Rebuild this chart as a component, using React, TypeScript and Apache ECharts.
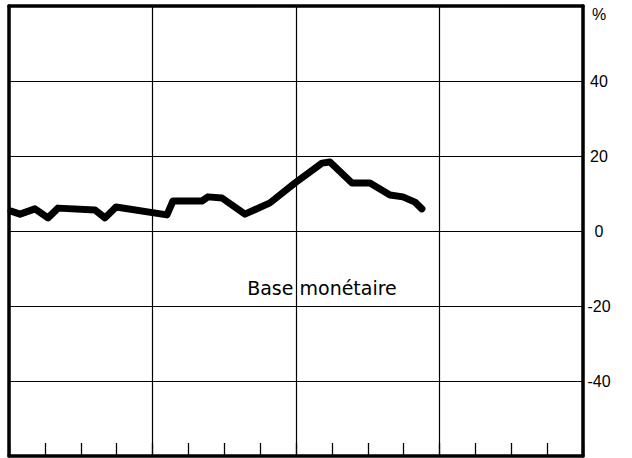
import React, { useEffect, useRef } from "react";
import * as echarts from "echarts";

// Position of each vertex, in months from the start of the first year (4 years shown)
const monthPos = [0.17, 0.92, 2.17, 3.26, 4.1, 7.19, 8.03, 8.95, 13.21, 13.71, 16.14, 16.64, 17.81, 19.73, 21.82, 23.91, 26.17, 26.84, 28.68, 30.18, 31.86, 32.94, 33.95, 34.53];
// Base monétaire, annual growth rate (%)
const baseMonetaire = [5.3, 4.5, 5.9, 3.5, 6.1, 5.6, 3.5, 6.4, 4.3, 8.0, 8.0, 9.1, 8.8, 4.5, 7.5, 12.8, 18.1, 18.4, 12.8, 12.8, 9.6, 9.1, 7.7, 5.9];
const yTickLabels = [-40, -20, 0, 20, 40];
const seriesName = "Base monétaire";
const unitLabel = "%";

const frameLine = { show: true, onZero: false, lineStyle: { color: "#000", width: 3.5 } };

export default function App() {
  const ref = useRef<HTMLDivElement>(null);
  useEffect(() => {
    if (!ref.current) return;
    const chart = echarts.init(ref.current, undefined, { renderer: "svg" });
    const data = monthPos.map((m, i) => [m, baseMonetaire[i]]);
    chart.setOption({
      animation: false,
      backgroundColor: "#fff",
      grid: { left: 9, right: 49, top: 6, bottom: 2 },
      xAxis: [
        {
          type: "value",
          min: 0,
          max: 48,
          interval: 12,
          position: "bottom",
          axisLine: { show: false },
          axisTick: { show: false },
          axisLabel: { show: false },
          splitLine: { show: true, lineStyle: { color: "#000", width: 1.2 } },
        },
        {
          type: "value",
          min: 0,
          max: 48,
          interval: 3,
          position: "bottom",
          axisLine: frameLine,
          axisTick: { show: true, inside: true, length: 13, lineStyle: { color: "#000", width: 1.3 } },
          axisLabel: { show: false },
          splitLine: { show: false },
        },
        {
          type: "value",
          min: 0,
          max: 48,
          position: "top",
          axisLine: frameLine,
          axisTick: { show: false },
          axisLabel: { show: false },
          splitLine: { show: false },
        },
      ],
      yAxis: [
        {
          type: "value",
          position: "right",
          min: -60,
          max: 60,
          interval: 20,
          axisLine: frameLine,
          axisTick: { show: false },
          axisLabel: {
            margin: 16,
            align: "center",
            fontSize: 16,
            fontFamily: "Liberation Sans",
            color: "#000",
            formatter: (v: number) => (yTickLabels.indexOf(v) >= 0 ? String(v) : ""),
          },
          splitLine: { show: true, lineStyle: { color: "#000", width: 1.2 } },
        },
        {
          type: "value",
          position: "left",
          min: -60,
          max: 60,
          axisLine: frameLine,
          axisTick: { show: false },
          axisLabel: { show: false },
          splitLine: { show: false },
        },
      ],
      graphic: [
        {
          type: "text",
          x: 599,
          y: 14,
          style: {
            text: unitLabel,
            fontSize: 16,
            fontFamily: "Liberation Sans",
            fill: "#000",
            align: "center",
            verticalAlign: "middle",
          },
        },
        {
          type: "text",
          x: 322,
          y: 288,
          style: {
            text: seriesName,
            fontSize: 19,
            fontFamily: "DejaVu Sans",
            fill: "#000",
            align: "center",
            verticalAlign: "middle",
          },
        },
      ],
      series: [
        {
          name: seriesName,
          type: "line",
          xAxisIndex: 0,
          yAxisIndex: 0,
          data,
          symbol: "none",
          lineStyle: { color: "#000", width: 7, cap: "round", join: "round" },
        },
      ],
    });
    return () => chart.dispose();
  }, []);
  return (
    <div
      ref={ref}
      style={{ position: "fixed", left: 0, top: 0, width: 632, height: 458 }}
    />
  );
}
